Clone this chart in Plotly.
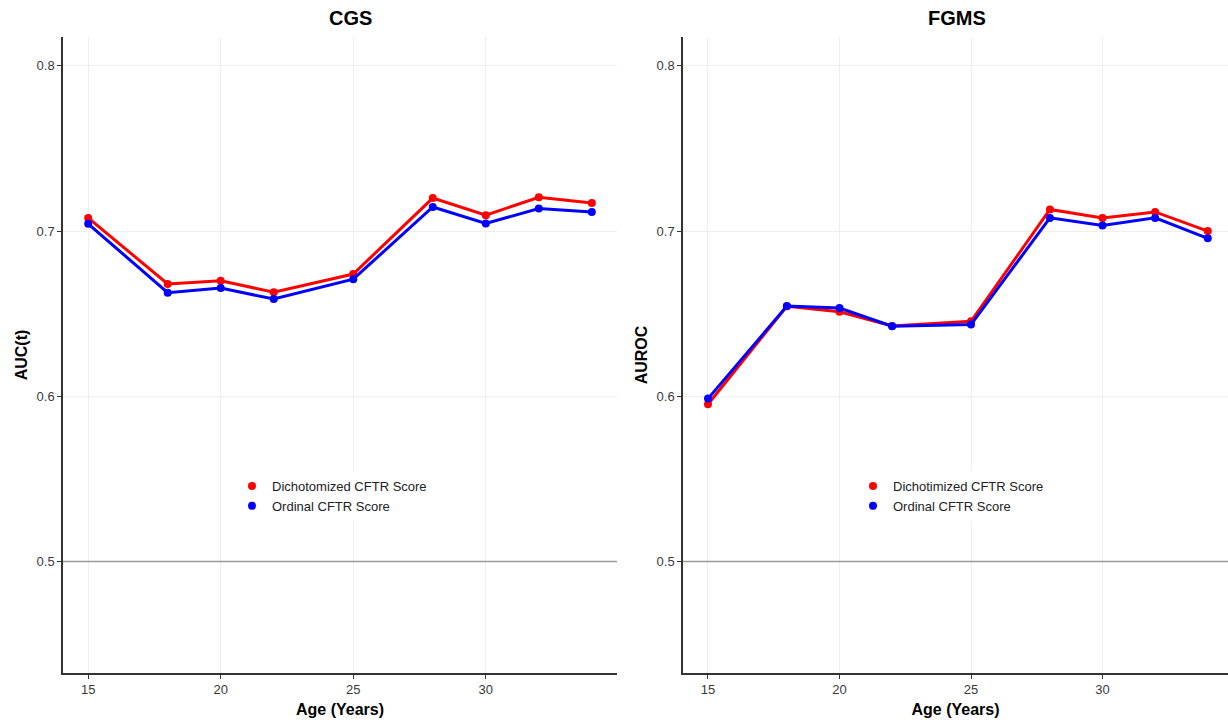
import plotly.graph_objects as go

ages = [15, 18, 20, 22, 25, 28, 30, 32, 34]

cgs_dich = [0.708, 0.668, 0.670, 0.663, 0.674, 0.720, 0.7096, 0.7205, 0.717]
cgs_ord = [0.7044, 0.6627, 0.6655, 0.6589, 0.6709, 0.7146, 0.7046, 0.7137, 0.7116]

fgms_dich = [0.5952, 0.6545, 0.6512, 0.6426, 0.6454, 0.7131, 0.708, 0.7116, 0.700]
fgms_ord = [0.5986, 0.6546, 0.6534, 0.6424, 0.6434, 0.7080, 0.7034, 0.708, 0.6956]

x_ticks = [15, 20, 25, 30]
y_ticks = [0.5, 0.6, 0.7, 0.8]
ref_line = 0.5

RED = "#FF0000"
BLUE = "#0000FF"
FONT = "Liberation Sans, Arial, sans-serif"

W, H = 1228, 725
fig = go.Figure()

panels = [
    ("x", "y", cgs_dich, cgs_ord, "Dichotomized CFTR Score", "legend", [14.05, 34.95]),
    ("x2", "y2", fgms_dich, fgms_ord, "Dichotimized CFTR Score", "legend2", [14.05, 34.77]),
]
for xa, ya, dich, ordv, dname, leg, xr in panels:
    fig.add_trace(go.Scatter(x=xr, y=[ref_line, ref_line], mode="lines", xaxis=xa, yaxis=ya,
                             line=dict(color="#9A9A9A", width=1.3), showlegend=False,
                             hoverinfo="skip"))
    fig.add_trace(go.Scatter(x=ages, y=dich, mode="lines+markers", xaxis=xa, yaxis=ya,
                             line=dict(color=RED, width=3), marker=dict(color=RED, size=8),
                             showlegend=False))
    fig.add_trace(go.Scatter(x=ages, y=ordv, mode="lines+markers", xaxis=xa, yaxis=ya,
                             line=dict(color=BLUE, width=3), marker=dict(color=BLUE, size=8),
                             showlegend=False))
    fig.add_trace(go.Scatter(x=[None], y=[None], mode="markers", xaxis=xa, yaxis=ya,
                             marker=dict(color=RED, size=8), name=dname, legend=leg))
    fig.add_trace(go.Scatter(x=[None], y=[None], mode="markers", xaxis=xa, yaxis=ya,
                             marker=dict(color=BLUE, size=8), name="Ordinal CFTR Score", legend=leg))

ydom = [(H - 673) / H, (H - 37) / H]
common_x = dict(
    tickvals=x_ticks, ticks="outside", ticklen=4, tickcolor="#333333", tickwidth=1,
    showline=True, linecolor="#333333", linewidth=1.5,
    showgrid=True, gridcolor="#EFEFEF", gridwidth=1, zeroline=False,
    tickfont=dict(family=FONT, size=13, color="#3A3A3A"),
    title=dict(text="<b>Age (Years)</b>", font=dict(family=FONT, size=16, color="black"), standoff=7),
    automargin=False,
)
common_y = dict(
    tickvals=y_ticks, ticktext=["0.5", "0.6", "0.7", "0.8"], range=[0.4325, 0.8175],
    ticks="outside", ticklen=4, tickcolor="#333333", tickwidth=1,
    showline=True, linecolor="#333333", linewidth=1.5,
    showgrid=True, gridcolor="#EFEFEF", gridwidth=1, zeroline=False,
    tickfont=dict(family=FONT, size=13, color="#3A3A3A"),
    automargin=False, domain=ydom,
)

fig.update_layout(
    width=W, height=H,
    margin=dict(l=0, r=0, t=0, b=0),
    plot_bgcolor="white", paper_bgcolor="white",
    xaxis=dict(common_x, domain=[63 / W, 617 / W], range=[14.05, 34.95], anchor="y"),
    yaxis=dict(common_y, anchor="x",
               title=dict(text="<b>AUC(t)</b>", font=dict(family=FONT, size=16, color="black"), standoff=5)),
    xaxis2=dict(common_x, domain=[683 / W, 1.0], range=[14.05, 34.77], anchor="y2"),
    yaxis2=dict(common_y, anchor="x2",
                title=dict(text="<b>AUROC</b>", font=dict(family=FONT, size=16, color="black"), standoff=5)),
    legend=dict(x=232 / W, y=1 - 496 / H, xanchor="left", yanchor="middle",
                bgcolor="white", font=dict(family=FONT, size=13, color="#222222"),
                tracegroupgap=0),
    legend2=dict(x=853 / W, y=1 - 496 / H, xanchor="left", yanchor="middle",
                 bgcolor="white", font=dict(family=FONT, size=13, color="#222222"),
                 tracegroupgap=0),
    annotations=[
        dict(text="<b>CGS</b>", x=350 / W, y=1 - 18 / H, xref="paper", yref="paper",
             showarrow=False, font=dict(family=FONT, size=20, color="black"),
             xanchor="center", yanchor="middle"),
        dict(text="<b>FGMS</b>", x=957 / W, y=1 - 18 / H, xref="paper", yref="paper",
             showarrow=False, font=dict(family=FONT, size=20, color="black"),
             xanchor="center", yanchor="middle"),
    ],
)

fig.write_html("out.html")
